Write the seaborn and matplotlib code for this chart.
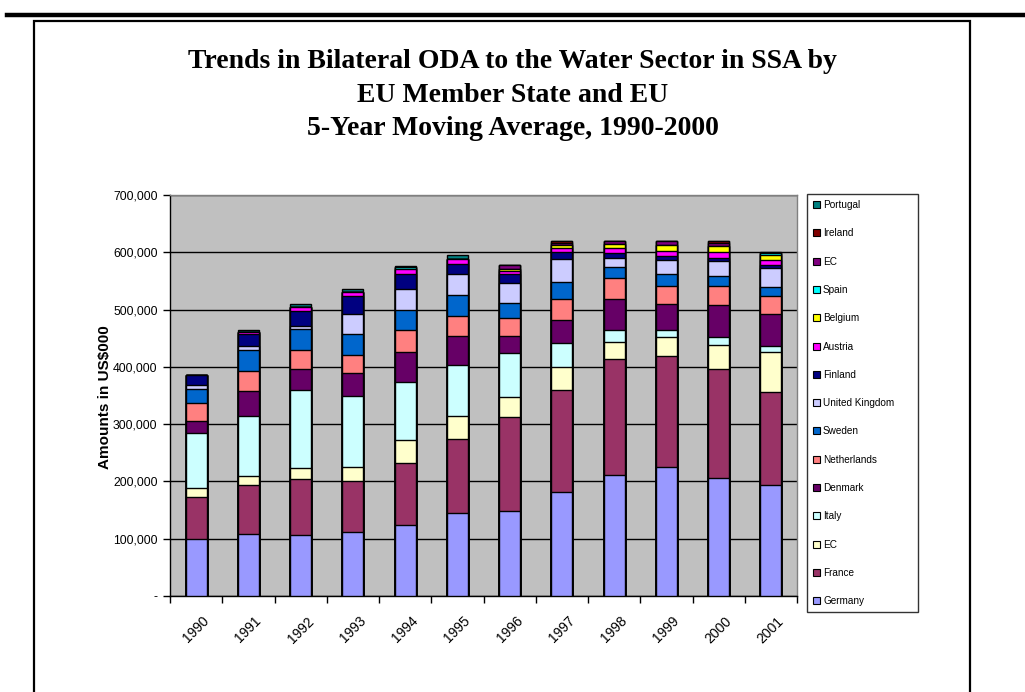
import numpy as np
import pandas as pd
import matplotlib
matplotlib.use("Agg")
import matplotlib.pyplot as plt
import seaborn as sns
from matplotlib.patches import Patch
from matplotlib.lines import Line2D
from matplotlib.ticker import FuncFormatter, FixedLocator

# ---------------- data (US$000, in thousands) ----------------
years = ["1990", "1991", "1992", "1993", "1994", "1995", "1996",
         "1997", "1998", "1999", "2000", "2001"]
germany     = [100, 108, 106, 111, 124, 145, 149, 182, 212, 225, 206, 194]
france      = [72, 85, 99, 89, 108, 129, 164, 178, 201, 194, 191, 162]
ec_cream    = [16, 16, 19, 26, 40, 40, 35, 40, 31, 33, 42, 70]
italy       = [96, 105, 136, 123, 101, 90, 76, 41, 21, 13, 13, 10]
denmark     = [22, 44, 37, 41, 53, 50, 29, 40, 54, 44, 56, 56]
netherlands = [31, 34, 33, 30, 38, 35, 33, 37, 36, 32, 34, 31]
sweden      = [25, 37, 36, 37, 35, 36, 25, 30, 20, 21, 16, 17]
uk          = [6, 8, 6, 36, 37, 37, 36, 41, 15, 24, 26, 32]
finland     = [18, 20, 26, 30, 26, 17, 15, 11, 9, 7, 6, 5]
austria     = [0, 3, 6, 8, 9, 9, 6, 7, 8, 10, 11, 9]
belgium     = [0, 0, 0, 0, 0, 0, 3, 6, 8, 10, 10, 10]
spain       = [0, 0, 0, 0, 3, 0, 0, 0, 0, 0, 0, 2]
ec_purple   = [0, 0, 0, 0, 0, 0, 6, 4, 5, 6, 6, 0]
ireland     = [0, 0, 0, 0, 0, 0, 0, 3, 0, 0, 2, 0]
portugal    = [0, 5, 5, 5, 2, 7, 0, 0, 0, 0, 0, 3]

series_names = ["Germany", "France", "EC", "Italy", "Denmark", "Netherlands",
                "Sweden", "United Kingdom", "Finland", "Austria", "Belgium",
                "Spain", "EC", "Ireland", "Portugal"]
series_values = [germany, france, ec_cream, italy, denmark, netherlands,
                 sweden, uk, finland, austria, belgium, spain, ec_purple,
                 ireland, portugal]
series_colors = ["#9999FF", "#993366", "#FFFFCC", "#CCFFFF", "#660066",
                 "#FF8080", "#0066CC", "#CCCCFF", "#000080", "#FF00FF",
                 "#FFFF00", "#00FFFF", "#800080", "#800000", "#008080"]

title_lines = ["Trends in Bilateral ODA to the Water Sector in SSA by",
               "EU Member State and EU",
               "5-Year Moving Average, 1990-2000"]
ylabel = "Amounts in US$000"

# ---------------- figure ----------------
W, H = 1025, 692
fig = plt.figure(figsize=(W / 100, H / 100), dpi=100)
fig.patch.set_facecolor("white")

def fx(px):
    return px / W

def fy(py):
    return 1 - py / H

ax = fig.add_axes([fx(170), fy(596), fx(797) - fx(170), fy(195) - fy(596)])
ax.set_facecolor("#C0C0C0")

# cumulative stacks, drawn from the top layer downwards so lower layers cover
vals = np.array(series_values, dtype=float) * 1000
cum = np.cumsum(vals, axis=0)
for i in range(len(series_names) - 1, -1, -1):
    df = pd.DataFrame({"year": years, "value": cum[i]})
    sns.barplot(data=df, x="year", y="value", order=years, color=series_colors[i],
                saturation=1, width=0.4, edgecolor="black", linewidth=1.0,
                ax=ax, zorder=3)

ax.set_xlim(-0.5, len(years) - 0.5)
ax.set_ylim(0, 700000)
ax.set_yticks(np.arange(0, 700001, 100000))
ax.yaxis.set_major_formatter(FuncFormatter(lambda v, p: "-" if v == 0 else f"{int(v):,}"))
ax.yaxis.grid(True, color="black", linewidth=1.0, zorder=1)
ax.set_axisbelow(True)
ax.xaxis.grid(False)

# x tick labels at bar centres; tick marks at category boundaries
ax.set_xticks(range(len(years)))
ax.set_xticklabels(years, rotation=45, ha="center", va="top",
                   fontsize=10, family=["Liberation Sans", "DejaVu Sans"])
ax.tick_params(axis="x", which="major", length=0, pad=13)
ax.xaxis.set_minor_locator(FixedLocator(np.arange(-0.5, len(years), 1.0)))
ax.tick_params(axis="x", which="minor", length=5, width=1, color="black", direction="out")
ax.tick_params(axis="y", length=5, width=1, color="black", direction="out", pad=4)
for lab in ax.get_yticklabels():
    lab.set_fontsize(8.8)
    lab.set_family(["Liberation Sans", "DejaVu Sans"])

ax.set_xlabel("")
ax.set_ylabel("")
for s in ["top", "right"]:
    ax.spines[s].set_color("#808080")
    ax.spines[s].set_linewidth(1)
ax.spines["left"].set_color("black")
ax.spines["bottom"].set_color("black")
ax.spines["left"].set_linewidth(1)
ax.spines["bottom"].set_linewidth(1)

fig.text(fx(105), fy(397), ylabel, rotation=90, ha="center", va="center",
         fontsize=11, fontweight="bold", family=["Liberation Sans", "DejaVu Sans"])

# title
for txt, base in zip(title_lines, [68, 102, 135]):
    fig.text(0.5, fy(base), txt, ha="center", va="baseline", fontsize=20,
             fontweight="bold", family=["Liberation Serif", "DejaVu Serif"])

# legend (top entry = last series)
handles = [Patch(facecolor=c, edgecolor="black", linewidth=0.8) for c in series_colors][::-1]
labels = series_names[::-1]
leg = ax.legend(handles, labels, loc="upper left", mode="expand",
                bbox_to_anchor=(fx(807), fy(615), fx(918) - fx(807), fy(194) - fy(615)),
                bbox_transform=fig.transFigure, borderaxespad=0, frameon=True,
                fancybox=False, labelspacing=1.83, handlelength=0.7,
                handleheight=0.7, handletextpad=0.3, borderpad=0.6,
                prop={"family": ["Liberation Sans", "DejaVu Sans"], "size": 7.2})
leg.get_frame().set_edgecolor("black")
leg.get_frame().set_linewidth(1)

# page frame decorations
fig.add_artist(Line2D([fx(7), 1], [fy(15), fy(15)], color="black", linewidth=3.2,
                      transform=fig.transFigure))
fig.add_artist(Line2D([fx(34), fx(34), fx(970), fx(970)], [0, fy(21), fy(21), 0],
                      color="black", linewidth=1.6, transform=fig.transFigure,
                      solid_joinstyle="miter"))

fig.savefig("out.png", dpi=100)
